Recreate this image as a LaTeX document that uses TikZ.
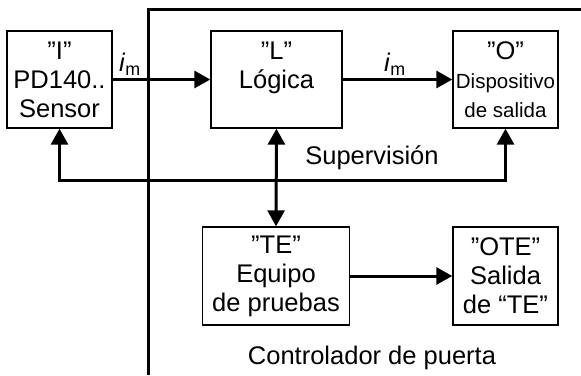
\documentclass[tikz,border=0pt]{standalone}
\usepackage{fontspec}
\setmainfont{Liberation Sans}
\usetikzlibrary{arrows.meta}

\begin{document}
\begin{tikzpicture}[x=1pt,y=-1pt]
				\tikzstyle{every node}=[font=\fontsize{25.5}{29}\selectfont,align=center,inner sep=0pt]
				\tikzstyle{bloque}=[draw,line width=1.4pt,minimum height=97pt]
				\tikzstyle{flecha}=[line width=3pt,-{Triangle[length=16pt,width=17pt]}]
				\tikzstyle{doble}=[line width=3pt,{Triangle[length=16pt,width=17pt]}-{Triangle[length=16pt,width=17pt]}]
				\useasboundingbox (0,0) rectangle (581,375);
				% bloques
				\node[bloque,minimum width=105pt] (sensor) at (59.5,79.5) {”I”\\PD140..\\Sensor};
				\node[bloque,minimum width=131pt] (logica) at (276.5,79.5) {"L"\\Lógica\\\mbox{}};
				\node[bloque,minimum width=105pt] (salida) at (505.5,79.5) {”O”\\{\fontsize{20.5}{29}\selectfont Dispositivo}\\{\fontsize{20.5}{29}\selectfont de salida}};
				\node[bloque,minimum width=147pt,minimum height=98pt] (pruebas) at (276,276) {”TE”\\Equipo\\de pruebas};
				\node[bloque,minimum width=105pt,minimum height=98pt] (salidate) at (505.5,276) {”OTE”\\Salida\\de “TE”};
				% marco del controlador
				\coordinate (c1) at (148,375);
				\coordinate (c2) at (148,9);
				\coordinate (c3) at (581,9);
				\draw[line width=3pt] (c1) -- (c2) -- (c3);
				% conexiones
				\draw[flecha] (sensor.east) -- (logica.west);
				\draw[flecha] (logica.east) -- (salida.west);
				\draw[flecha] (pruebas.east) -- (salidate.west);
				\draw[doble] (logica.south) -- (pruebas.north);
				\coordinate (bus) at (0,180);
				\draw[doble,line join=miter] (sensor.south) -- (sensor.south |- bus) -- (salida.south |- bus) -- (salida.south);
				% textos
				\node (im1) at (130,64) {\textit{i}\textsubscript{m}};
				\node (im2) at (395,64) {\textit{i}\textsubscript{m}};
				\node (super) at (372,158) {Supervisión};
				\node (ctrl) at (372,358) {Controlador de puerta};
\end{tikzpicture}
\end{document}
